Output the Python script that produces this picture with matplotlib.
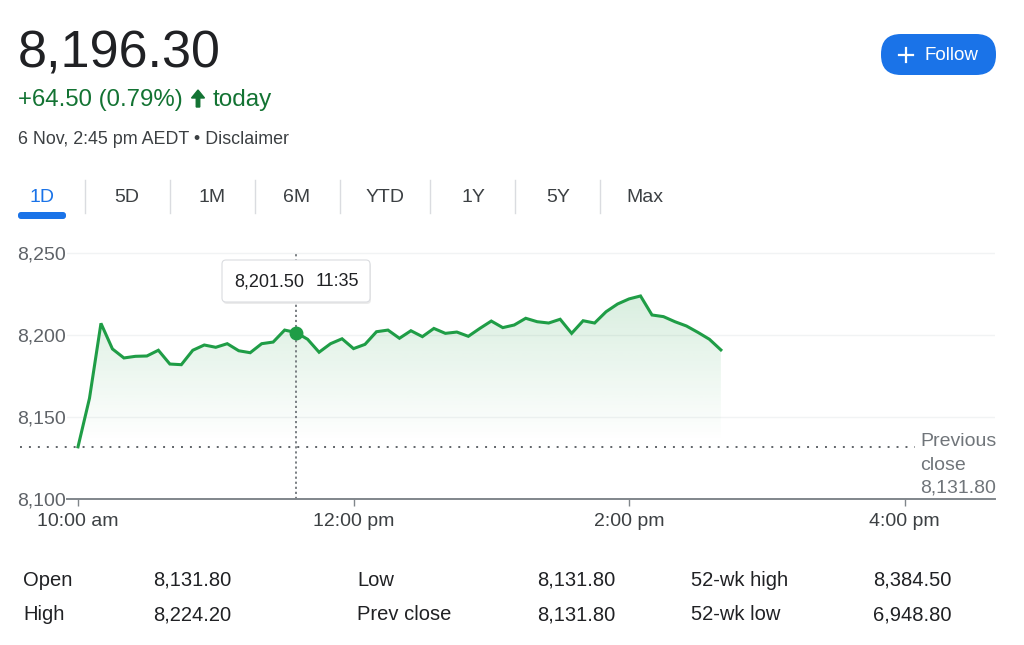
import numpy as np
import matplotlib.pyplot as plt
from matplotlib.patches import FancyBboxPatch, FancyArrow
from matplotlib.lines import Line2D
from matplotlib.transforms import Affine2D

plt.rcParams['font.family'] = ['Liberation Sans', 'DejaVu Sans']

# Intraday prices, 5-minute steps from 10:00 am
prices = [8131.8, 8161.4, 8207.1, 8191.5, 8186.0, 8187.0, 8187.2, 8190.7, 8182.3, 8181.9,
          8190.7, 8193.9, 8192.5, 8194.7, 8190.4, 8189.2, 8194.7, 8195.7, 8203.0, 8201.5,
          8197.4, 8189.5, 8194.7, 8197.7, 8191.7, 8194.3, 8202.0, 8203.0, 8198.0, 8202.6,
          8199.0, 8204.0, 8201.0, 8201.8, 8199.2, 8204.0, 8208.5, 8204.5, 8206.1, 8210.2,
          8208.1, 8207.3, 8209.6, 8201.0, 8208.7, 8207.3, 8214.2, 8218.9, 8222.0, 8223.8,
          8212.2, 8211.2, 8208.1, 8205.5, 8201.6, 8197.4, 8190.9]
step_min = 5
prev_close = 8131.80
hover_idx = 19
hover_label = ("8,201.50", "11:35")

y_ticks = [8100, 8150, 8200, 8250]
x_ticks = [0, 120, 240, 360]
x_labels = ["10:00 am", "12:00 pm", "2:00 pm", "4:00 pm"]

tabs = ["1D", "5D", "1M", "6M", "YTD", "1Y", "5Y", "Max"]
stats_left = [("Open", "8,131.80"), ("High", "8,224.20")]
stats_mid = [("Low", "8,131.80"), ("Prev close", "8,131.80")]
stats_right = [("52-wk high", "8,384.50"), ("52-wk low", "6,948.80")]

GREEN = '#1f9d46'
TEXT_GREEN = '#137333'
BLUE = '#1a73e8'
DARK = '#202124'
GREY = '#5f6368'

W, H = 1024, 645
fig = plt.figure(figsize=(W / 100, H / 100), dpi=100)
# pixel coords with origin at the top-left
px = Affine2D().scale(1 / 100, -1 / 100).translate(0, H / 100) + fig.dpi_scale_trans

# ---- header ----
fig.text(18, 68, "8,196.30", transform=px, fontsize=37.5, color=DARK, va='baseline')
fig.text(18, 106, "+64.50 (0.79%)", transform=px, fontsize=17.3, color=TEXT_GREEN, va='baseline')
fig.add_artist(FancyArrow(198, 107, 0, -17, width=3.5, head_width=13, head_length=8,
                          length_includes_head=True, color=TEXT_GREEN, transform=px))
fig.text(213, 106, "today", transform=px, fontsize=17.5, color=TEXT_GREEN, va='baseline')
fig.text(18, 144, "6 Nov, 2:45 pm AEDT \u2022 Disclaimer", transform=px, fontsize=12.9,
         color='#3c4043', va='baseline')

# follow button
fig.add_artist(FancyBboxPatch((881, 34), 115, 41, boxstyle="round,pad=0,rounding_size=20",
                              facecolor=BLUE, edgecolor='none', transform=px))
fig.add_artist(Line2D([899, 913], [55, 55], color='white', lw=1.6, transform=px))
fig.add_artist(Line2D([906, 906], [48, 62], color='white', lw=1.6, transform=px))
fig.text(925, 55, "Follow", transform=px, fontsize=13.5, color='white', va='center')

# tabs
tab_x = [42, 127, 212, 297, 385, 473, 558, 645]
for i, (t, tx) in enumerate(zip(tabs, tab_x)):
    fig.text(tx, 197, t, transform=px, fontsize=14, ha='center', va='center',
             color=BLUE if i == 0 else '#3c4043')
for sx in [85, 170, 255, 340, 430, 515, 600]:
    fig.add_artist(Line2D([sx, sx], [180, 213], color='#dadce0', lw=1, transform=px))
fig.add_artist(FancyBboxPatch((18, 212), 48, 7, boxstyle="round,pad=0,rounding_size=3",
                              facecolor=BLUE, edgecolor='none', transform=px))

# ---- chart ----
ax = fig.add_axes([67 / W, 1 - 499 / H, 928 / W, 254 / H])
x = np.arange(len(prices)) * step_min
xlim = ((67 - 78) / 2.296, (995 - 78) / 2.296)
ylim = (8100, 8100 + 254 / 1.64)

for yv in y_ticks[1:]:
    ax.axhline(yv, color='#f1f3f4', lw=1, zorder=0)

# gradient fill under the line
poly = ax.fill_between(x, prices, ylim[0], facecolor='none', edgecolor='none')
top = max(prices)
grad = np.linspace(0, 1, 256).reshape(-1, 1)
rgba = np.zeros((256, 1, 4))
rgba[..., 0], rgba[..., 1], rgba[..., 2] = 31 / 255, 157 / 255, 70 / 255
rgba[..., 3] = 0.17 * grad
img = ax.imshow(rgba, extent=[x[0], x[-1], prev_close + 3, top], origin='lower',
                aspect='auto', zorder=1)
img.set_clip_path(poly.get_paths()[0], transform=ax.transData)

ax.plot(x, prices, color=GREEN, lw=2.2, zorder=3, solid_joinstyle='miter')

# previous close reference
ax.plot([-0.0506, 0.914], [prev_close, prev_close], transform=ax.get_yaxis_transform(),
        clip_on=False, color=GREY, lw=1.4, linestyle=(0, (1, 3.6)), zorder=2)
fig.text(920, 442, "Previous", transform=px, fontsize=14, color='#70757a', va='center')
fig.text(920, 465, "close", transform=px, fontsize=14, color='#70757a', va='center')
fig.text(920, 488, "8,131.80", transform=px, fontsize=14, color='#70757a', va='center')

# hover marker
hx = x[hover_idx]
ax.plot([hx, hx], [ylim[0], 8250], color='#70757a', lw=1.3, linestyle=(0, (1.2, 1.6)), zorder=2)
ax.plot(hx, prices[hover_idx], 'o', color=GREEN, ms=9, zorder=4)

ax.set_xlim(*xlim)
ax.set_ylim(*ylim)
for s in ['top', 'right', 'left']:
    ax.spines[s].set_visible(False)
ax.spines['bottom'].set_color('#80868b')
ax.spines['bottom'].set_linewidth(1.4)
ax.set_xticks(x_ticks)
ax.set_xticklabels(x_labels)
ax.set_yticks(y_ticks)
ax.set_yticklabels([f"{v:,}" for v in y_ticks])
ax.tick_params(axis='x', length=5, width=1, color='#80868b', pad=5, labelsize=14, labelcolor='#3c4043')
ax.tick_params(axis='y', length=0, pad=1, labelsize=14, labelcolor=GREY)
ax.patch.set_alpha(0)

# tooltip
fig.add_artist(FancyBboxPatch((223, 262), 148, 42, boxstyle="round,pad=0,rounding_size=4",
                              facecolor='#000000', alpha=0.08, edgecolor='none', transform=px))
fig.add_artist(FancyBboxPatch((222, 260), 148, 42, boxstyle="round,pad=0,rounding_size=4",
                              facecolor='white', edgecolor='#dadce0', lw=0.8, transform=px))
fig.text(234, 282, hover_label[0], transform=px, fontsize=13, color=DARK, va='center')
fig.text(316, 282, hover_label[1], transform=px, fontsize=13, color=DARK, va='center')

# ---- stats table ----
for col, (lx, vx) in zip([stats_left, stats_mid, stats_right], [(23, 153), (357, 537), (691, 873)]):
    for row, (lab, val) in enumerate(col):
        yy = 580 + row * 35
        fig.text(lx, yy, lab, transform=px, fontsize=14.5, color=DARK, va='center')
        fig.text(vx, yy, val, transform=px, fontsize=14.5, color=DARK, va='center')

fig.savefig('out.png', dpi=100)
